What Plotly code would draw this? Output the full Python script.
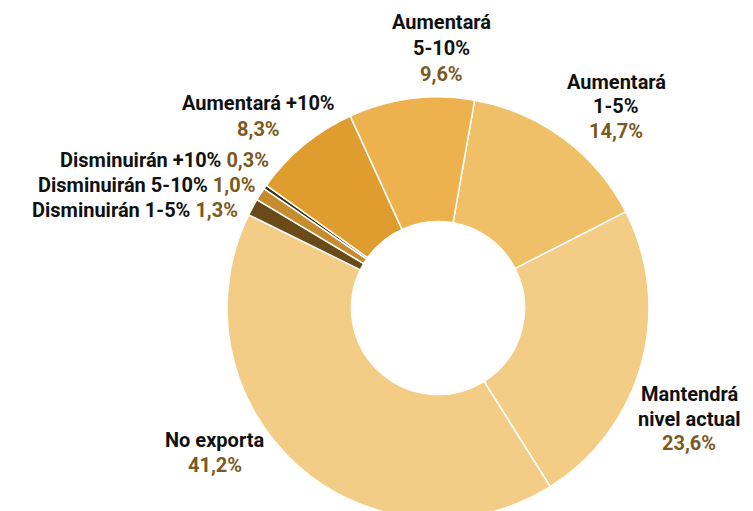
import plotly.graph_objects as go

# ---- data ----
categories = ["Aumentará 1-5%", "Mantendrá nivel actual", "No exporta",
              "Disminuirán 1-5%", "Disminuirán 5-10%", "Disminuirán +10%",
              "Aumentará +10%", "Aumentará 5-10%"]
values = [14.7, 23.6, 41.2, 1.3, 1.0, 0.3, 8.3, 9.6]

# ---- styles ----
colors = ["#F0C069", "#F3CD86", "#F3CD86", "#6B4A19", "#C58C30", "#3B2B12",
          "#E09D2F", "#EDB24D"]
PCT_COLOR = "#7A5A1E"
TXT_COLOR = "#111111"
FONT = "Roboto"
FS = 20
W, H = 753, 511
CX, R = 430, 211
DY = -6  # vertical text offset correction

fig = go.Figure(go.Pie(
    labels=categories, values=values, sort=False, direction="clockwise",
    rotation=10, hole=0.41, textinfo="none", hoverinfo="label+percent",
    marker=dict(colors=colors, line=dict(color="white", width=1.5)),
    domain=dict(x=[(CX - R) / W, (CX + R) / W], y=[0, 2 * R / H]),
    showlegend=False,
))

def pct(v):
    return f"{v:.1f}".replace(".", ",") + "%"

# label layout: (lines of label, x px, y px of first line, line step, inline)
layout_spec = {
    "Aumentará 5-10%": (["Aumentará", "5-10%"], 433, 20, 26, False),
    "Aumentará 1-5%": (["Aumentará", "1-5%"], 608, 80, 24.5, False),
    "Aumentará +10%": (["Aumentará +10%"], 250, 101, 26, False),
    "Mantendrá nivel actual": (["Mantendrá", "nivel actual"], 681, 392, 24.5, False),
    "No exporta": (["No exporta"], 207, 438, 25, False),
    "Disminuirán +10%": (["Disminuirán +10%"], 263, 158, 0, True),
    "Disminuirán 5-10%": (["Disminuirán 5-10%"], 250, 183, 0, True),
    "Disminuirán 1-5%": (["Disminuirán 1-5%"], 232, 208, 0, True),
}

annotations = []
for cat, v in zip(categories, values):
    lines, xp, yp, step, inline = layout_spec[cat]
    yp += DY
    if inline:
        annotations.append(dict(
            x=xp / W, y=1 - yp / H, xref="paper", yref="paper",
            xanchor="right", yanchor="middle", showarrow=False,
            text=f"<b><span style='color:{TXT_COLOR}'>{lines[0]}</span> "
                 f"<span style='color:{PCT_COLOR}'>{pct(v)}</span></b>",
            font=dict(family=FONT, size=FS, color=TXT_COLOR)))
    else:
        for i, ln in enumerate(lines + [pct(v)]):
            col = PCT_COLOR if i == len(lines) else TXT_COLOR
            annotations.append(dict(
                x=xp / W, y=1 - (yp + i * step) / H, xref="paper", yref="paper",
                xanchor="center", yanchor="middle", showarrow=False,
                text=f"<b>{ln}</b>", font=dict(family=FONT, size=FS, color=col)))

fig.update_layout(
    width=W, height=H, margin=dict(l=0, r=0, t=0, b=0),
    paper_bgcolor="white", plot_bgcolor="white",
    annotations=annotations,
)
fig.write_html("out.html")
